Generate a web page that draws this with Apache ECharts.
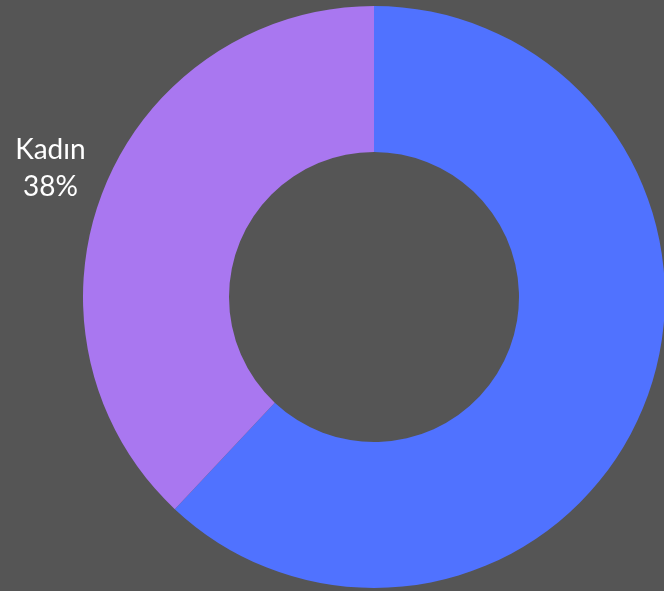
<!DOCTYPE html>
<html>
<head>
<meta charset="utf-8">
<script src="https://cdn.jsdelivr.net/npm/echarts@6/dist/echarts.min.js"></script>
<style>
html,body{margin:0;padding:0;background:#555555;}
#c{width:664px;height:591px;}
</style>
</head>
<body>
<div id="c"></div>
<script>
const categories = ['Erkek', 'Kadın'];
const values = [62, 38];
const colors = ['#5072ff', '#a977f0'];

const data = categories.map((c, i) => ({ name: c, value: values[i] }));

const chart = echarts.init(document.getElementById('c'));
chart.setOption({
  backgroundColor: '#555555',
  animation: false,
  color: colors,
  series: [
    {
      type: 'pie',
      center: [374, 297],
      radius: [145, 291],
      startAngle: 90,
      clockwise: true,
      data: data,
      label: { show: false },
      labelLine: { show: false },
      itemStyle: { borderWidth: 0 },
      silent: true
    },
    {
      type: 'pie',
      center: [374, 297],
      radius: [335, 355],
      startAngle: 90,
      clockwise: true,
      data: data,
      itemStyle: { color: 'rgba(0,0,0,0)', borderWidth: 0 },
      label: {
        show: true,
        position: 'inside',
        formatter: '{b}\n{d}%',
        color: '#ffffff',
        fontFamily: 'Lato',
        fontSize: 28,
        lineHeight: 37,
        align: 'center',
        rotate: 0
      },
      labelLine: { show: false },
      silent: true
    }
  ]
});
</script>
</body>
</html>
